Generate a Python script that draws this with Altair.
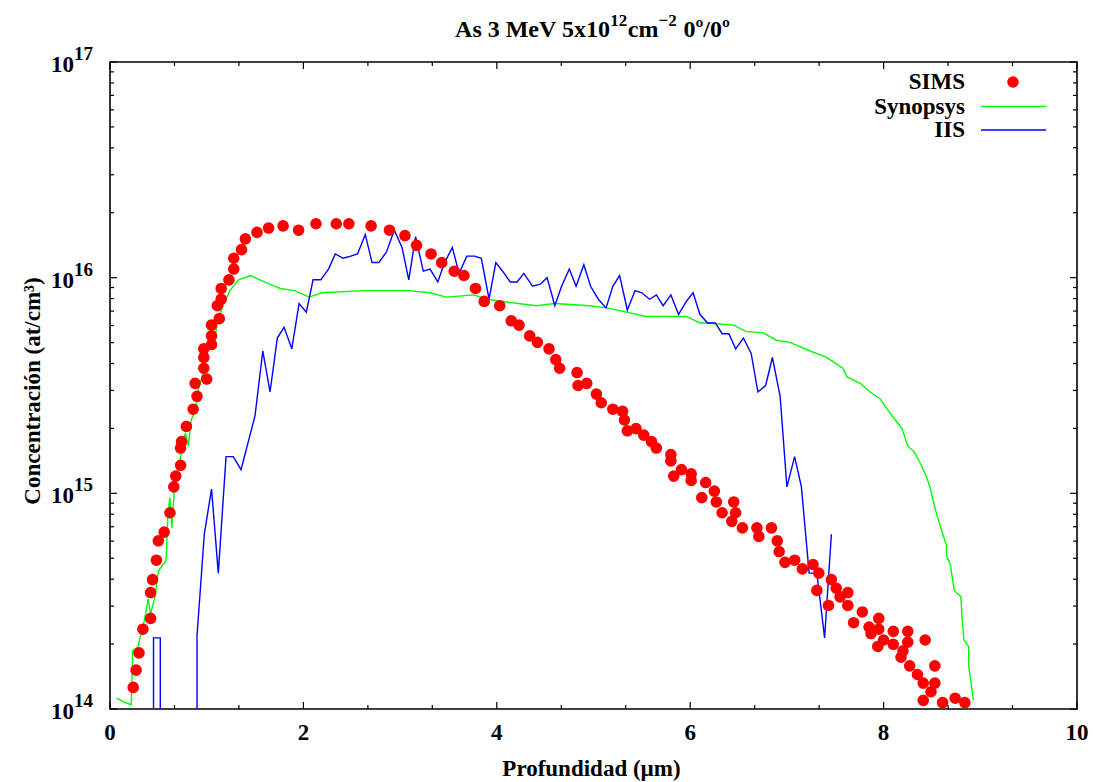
import altair as alt
import pandas as pd

# ---------------- data (x in µm, concentration as log10 value) ----------------
sims_x = [0.24, 0.27, 0.30, 0.34, 0.42, 0.42, 0.44, 0.48, 0.50, 0.56, 0.62, 0.66, 0.68, 0.73, 0.73,
          0.74, 0.79, 0.86, 0.90, 0.88, 1.00, 0.97, 0.97, 0.97, 1.05, 1.05, 1.05, 1.13, 1.11, 1.15,
          1.15, 1.23, 1.28, 1.28, 1.36, 1.40, 1.52, 1.64, 1.79, 1.95, 2.13, 2.34, 2.47, 2.70, 2.89,
          3.05, 3.17, 3.32, 3.43, 3.56, 3.66, 3.78, 3.87, 4.03, 4.15, 4.23, 4.34, 4.42, 4.54, 4.61,
          4.65, 4.83, 4.84, 4.93, 5.03, 5.08, 5.20, 5.30, 5.32, 5.35, 5.44, 5.52, 5.60, 5.65, 5.80,
          5.80, 5.83, 5.91, 6.01, 6.01, 6.16, 6.12, 6.25, 6.27, 6.33, 6.45, 6.47, 6.43, 6.54, 6.69,
          6.71, 6.84, 6.90, 6.92, 6.98, 7.08, 7.16, 7.27, 7.33, 7.31, 7.46, 7.43, 7.51, 7.55, 7.63,
          7.63, 7.69, 7.78, 7.85, 7.87, 7.95, 7.95, 7.94, 8.00, 8.10, 8.10, 8.25, 8.25, 8.20, 8.18,
          8.43, 8.27, 8.35, 8.41, 8.53, 8.53, 8.49, 8.41, 8.61, 8.74, 8.84]
sims_lg = [14.10, 14.18, 14.26, 14.37, 14.42, 14.54, 14.60, 14.69, 14.78, 14.82, 14.91, 15.03, 15.08, 15.13, 15.21,
           15.24, 15.31, 15.39, 15.45, 15.51, 15.53, 15.58, 15.63, 15.67, 15.69, 15.73, 15.78, 15.81, 15.87, 15.90,
           15.95, 15.99, 16.04, 16.09, 16.13, 16.18, 16.21, 16.23, 16.24, 16.22, 16.25, 16.25, 16.25, 16.24, 16.22,
           16.195, 16.15, 16.11, 16.07, 16.03, 16.01, 15.95, 15.89, 15.87, 15.80, 15.78, 15.73, 15.70, 15.67, 15.62,
           15.58, 15.56, 15.50, 15.51, 15.46, 15.42, 15.39, 15.38, 15.34, 15.29, 15.30, 15.27, 15.24, 15.21, 15.18,
           15.15, 15.08, 15.11, 15.09, 15.06, 15.05, 14.98, 15.01, 14.96, 14.91, 14.96, 14.91, 14.87, 14.84, 14.84,
           14.80, 14.84, 14.78, 14.73, 14.68, 14.69, 14.65, 14.67, 14.63, 14.55, 14.60, 14.48, 14.56, 14.52, 14.54,
           14.48, 14.40, 14.45, 14.38, 14.35, 14.42, 14.37, 14.29, 14.32, 14.36, 14.30, 14.36, 14.31, 14.27, 14.24,
           14.32, 14.20, 14.16, 14.12, 14.20, 14.12, 14.08, 14.04, 14.03, 14.05, 14.03]

syn_x = [0.07, 0.155, 0.22, 0.235, 0.29, 0.32, 0.355, 0.395, 0.42, 0.465, 0.50, 0.58, 0.60, 0.62, 0.64,
         0.67, 0.74, 0.78, 0.81, 0.84, 0.89, 0.90, 0.965, 0.99, 1.09, 1.11, 1.17, 1.24, 1.33, 1.45,
         1.65, 1.76, 1.91, 2.06, 2.19, 2.64, 2.76, 3.10, 3.31, 3.48, 3.76, 3.90, 4.22, 4.41, 4.60,
         4.96, 5.14, 5.34, 5.55, 5.72, 5.96, 6.10, 6.17, 6.45, 6.58, 6.75, 6.89, 7.03, 7.24, 7.41,
         7.58, 7.62, 7.76, 7.86, 7.96, 8.07, 8.19, 8.25, 8.32, 8.39, 8.44, 8.48, 8.51, 8.55, 8.62,
         8.65, 8.65, 8.69, 8.73, 8.80, 8.81, 8.83, 8.88, 8.88, 8.93]
syn_lg = [14.05, 14.03, 14.02, 14.27, 14.29, 14.35, 14.41, 14.51, 14.44, 14.52, 14.64, 14.69, 14.91, 14.98, 14.84,
          15.05, 15.19, 15.28, 15.22, 15.34, 15.39, 15.46, 15.56, 15.67, 15.73, 15.80, 15.87, 15.94, 15.99, 16.01,
          15.97, 15.95, 15.94, 15.91, 15.93, 15.94, 15.94, 15.94, 15.93, 15.91, 15.92, 15.90, 15.88, 15.87, 15.88,
          15.87, 15.86, 15.84, 15.82, 15.82, 15.82, 15.79, 15.79, 15.78, 15.75, 15.745, 15.71, 15.70, 15.66, 15.63,
          15.58, 15.54, 15.51, 15.47, 15.44, 15.37, 15.30, 15.22, 15.19, 15.13, 15.08, 15.03, 14.97, 14.90, 14.80,
          14.76, 14.71, 14.67, 14.55, 14.52, 14.43, 14.32, 14.29, 14.20, 14.04]

# IIS: a short pulse near the surface, then the main profile (values below 1e14 fall off the axis)
iis_pulse_x = [0.45, 0.45, 0.52, 0.52]
iis_pulse_lg = [13.0, 14.33, 14.33, 13.0]
iis_x = [0.90, 0.90, 0.975, 1.05, 1.12, 1.20, 1.275, 1.355, 1.50, 1.58, 1.655, 1.73, 1.80, 1.88, 1.955, 2.03,
         2.10, 2.18, 2.26, 2.33, 2.41, 2.49, 2.56, 2.64, 2.71, 2.78, 2.86, 2.94, 3.02, 3.09, 3.16, 3.24,
         3.31, 3.39, 3.46, 3.54, 3.61, 3.69, 3.77, 3.84, 3.92, 3.99, 4.06, 4.14, 4.21, 4.28, 4.37, 4.45,
         4.52, 4.60, 4.67, 4.75, 4.82, 4.90, 4.97, 5.05, 5.13, 5.20, 5.27, 5.35, 5.43, 5.50, 5.58, 5.65,
         5.72, 5.80, 5.88, 5.96, 6.03, 6.10, 6.18, 6.26, 6.33, 6.40, 6.47, 6.55, 6.63, 6.70, 6.78, 6.85,
         6.93, 7.00, 7.08, 7.15, 7.23, 7.31, 7.39, 7.46]
iis_lg = [13.0, 14.34, 14.81, 15.02, 14.63, 15.17, 15.17, 15.11, 15.36, 15.66, 15.47, 15.72, 15.77, 15.67, 15.88, 15.84,
          15.99, 15.99, 16.04, 16.11, 16.09, 16.10, 16.11, 16.20, 16.07, 16.07, 16.12, 16.22, 16.14, 15.99, 16.19, 16.03,
          16.04, 15.98, 16.07, 16.14, 16.02, 16.10, 16.10, 16.09, 15.90, 16.07, 16.03, 15.98, 15.98, 16.02, 15.96, 15.97,
          16.00, 15.87, 15.96, 16.04, 15.96, 16.06, 15.96, 15.90, 15.86, 15.96, 16.01, 15.85, 15.94, 15.93, 15.90, 15.92,
          15.87, 15.92, 15.83, 15.89, 15.93, 15.83, 15.79, 15.79, 15.74, 15.74, 15.67, 15.72, 15.65, 15.47, 15.50, 15.63,
          15.45, 15.03, 15.17, 15.03, 14.63, 14.63, 14.33, 14.81]

x_major = [0, 2, 4, 6, 8, 10]
x_minor = [0.667, 1.333, 2.667, 3.333, 4.667, 5.333, 6.667, 7.333, 8.667, 9.333]
y_major_exp = [14, 15, 16, 17]
y_minor_mult = [2, 3, 4, 5, 6, 7, 8, 9]
y_minor_exp = [14, 15, 16]

series_names = ["SIMS", "Synopsys", "IIS"]
series_colors = ["#ff0000", "#00ff00", "#0000ff"]

# ---------------- tables ----------------
df_sims = pd.DataFrame({"x": sims_x, "c": [10 ** v for v in sims_lg]})
df_syn = pd.DataFrame({"x": syn_x, "c": [10 ** v for v in syn_lg], "i": range(len(syn_x))})
all_x = iis_pulse_x + iis_x
all_lg = iis_pulse_lg + iis_lg
df_iis = pd.DataFrame({"x": all_x, "c": [10 ** v for v in all_lg],
                       "seg": [0] * len(iis_pulse_x) + [1] * len(iis_x), "i": range(len(all_x))})
df_xmaj = pd.DataFrame({"x": x_major, "lab": [str(v) for v in x_major]})
df_xmin = pd.DataFrame({"x": x_minor})
df_ymaj = pd.DataFrame({"c": [10.0 ** e for e in y_major_exp], "base": ["10"] * len(y_major_exp),
                        "exp": [str(e) for e in y_major_exp]})
df_ymin = pd.DataFrame({"c": [m * 10.0 ** e for e in y_minor_exp for m in y_minor_mult]})

W, H = 967, 647
FONT = "Liberation Serif"
xs = alt.Scale(domain=[0, 10], nice=False, zero=False)
ys = alt.Scale(type="log", domain=[1e14, 1e17], nice=False)
X = alt.X("x:Q", scale=xs, axis=None)
Y = alt.Y("c:Q", scale=ys, axis=None)

syn = alt.Chart(df_syn).mark_line(color=series_colors[1], strokeWidth=1.4, clip=True).encode(
    x=X, y=Y, order="i:Q")
iis = alt.Chart(df_iis).mark_line(color=series_colors[2], strokeWidth=1.4, clip=True).encode(
    x=X, y=Y, detail="seg:N", order="i:Q")
sims = alt.Chart(df_sims).mark_circle(color=series_colors[0], size=135, opacity=1).encode(x=X, y=Y)

tick_style = dict(color="black", strokeWidth=1.2)
MAJ, MIN = 7, 4
ticks = [
    alt.Chart(df_xmaj).mark_rule(**tick_style).encode(x=X, y=alt.value(H), y2=alt.value(H - MAJ)),
    alt.Chart(df_xmaj).mark_rule(**tick_style).encode(x=X, y=alt.value(0), y2=alt.value(MAJ)),
    alt.Chart(df_xmin).mark_rule(**tick_style).encode(x=X, y=alt.value(H), y2=alt.value(H - MIN)),
    alt.Chart(df_xmin).mark_rule(**tick_style).encode(x=X, y=alt.value(0), y2=alt.value(MIN)),
    alt.Chart(df_ymaj).mark_rule(**tick_style).encode(y=Y, x=alt.value(0), x2=alt.value(MAJ)),
    alt.Chart(df_ymaj).mark_rule(**tick_style).encode(y=Y, x=alt.value(W), x2=alt.value(W - MAJ)),
    alt.Chart(df_ymin).mark_rule(**tick_style).encode(y=Y, x=alt.value(0), x2=alt.value(MIN)),
    alt.Chart(df_ymin).mark_rule(**tick_style).encode(y=Y, x=alt.value(W), x2=alt.value(W - MIN)),
]

txt = dict(font=FONT, fontWeight="bold", color="black")
xlabels = alt.Chart(df_xmaj).mark_text(fontSize=23, align="center", baseline="alphabetic", **txt).encode(
    x=X, y=alt.value(H + 31), text="lab:N")
ylab_base = alt.Chart(df_ymaj).mark_text(fontSize=23, align="right", baseline="alphabetic", dy=10, **txt).encode(
    y=Y, x=alt.value(-36), text="base:N")
ylab_exp = alt.Chart(df_ymaj).mark_text(fontSize=19, align="left", baseline="alphabetic", dy=-2, **txt).encode(
    y=Y, x=alt.value(-36), text="exp:N")


def label(text, x, y, size=23, align="left", angle=None, baseline="alphabetic"):
    kw = dict(fontSize=size, align=align, baseline=baseline, **txt)
    if angle is not None:
        kw["angle"] = angle
    return alt.Chart(pd.DataFrame({"t": [text]})).mark_text(**kw).encode(
        text="t:N", x=alt.value(x), y=alt.value(y))


# title pieces (enhanced-text style superscripts): text, size, advance width, superscript?
pieces = [("As 3 MeV 5x10", 24, 155.3, 0), ("12", 17, 17.5, 1), ("cm", 24, 30.6, 0),
          ("\u22122", 17, 18.5, 1), ("", 24, 6.5, 0), ("0º/0º", 24, 46.5, 0)]
total = sum(p[2] for p in pieces)
cx = 482.5 - total / 2
title_layers = []
for t, s, w, sup in pieces:
    if t:
        title_layers.append(label(t, cx, -36 if sup else -25, size=s))
    cx += w

xtitle = label("Profundidad (µm)", 481.5, 714, align="center")
ytitle = label("Concentración (at/cm³)", -77, 329, align="center", angle=270, baseline="middle")

# legend (gnuplot style: label then sample)
leg_y = [20, 44.5, 68]
legend = [
    label(series_names[0], 855, leg_y[0], align="right", baseline="middle"),
    label(series_names[1], 855, leg_y[1], align="right", baseline="middle"),
    label(series_names[2], 855, leg_y[2], align="right", baseline="middle"),
    alt.Chart(pd.DataFrame({"a": [0]})).mark_circle(color=series_colors[0], size=135, opacity=1).encode(
        x=alt.value(903), y=alt.value(leg_y[0])),
    alt.Chart(pd.DataFrame({"a": [0]})).mark_rule(color=series_colors[1], strokeWidth=1.4).encode(
        x=alt.value(871), x2=alt.value(936), y=alt.value(leg_y[1])),
    alt.Chart(pd.DataFrame({"a": [0]})).mark_rule(color=series_colors[2], strokeWidth=1.4).encode(
        x=alt.value(871), x2=alt.value(936), y=alt.value(leg_y[2])),
]

chart = alt.layer(
    syn, iis, sims, *ticks, xlabels, ylab_base, ylab_exp, *title_layers, xtitle, ytitle, *legend
).properties(
    width=W, height=H,
    autosize=alt.AutoSizeParams(type="none"),
    padding={"left": 110, "top": 62, "right": 16, "bottom": 73},
    background="white",
).configure_view(stroke="black", strokeWidth=1.6)

chart.save("out.html", embed_options={"renderer": "svg", "actions": False})
